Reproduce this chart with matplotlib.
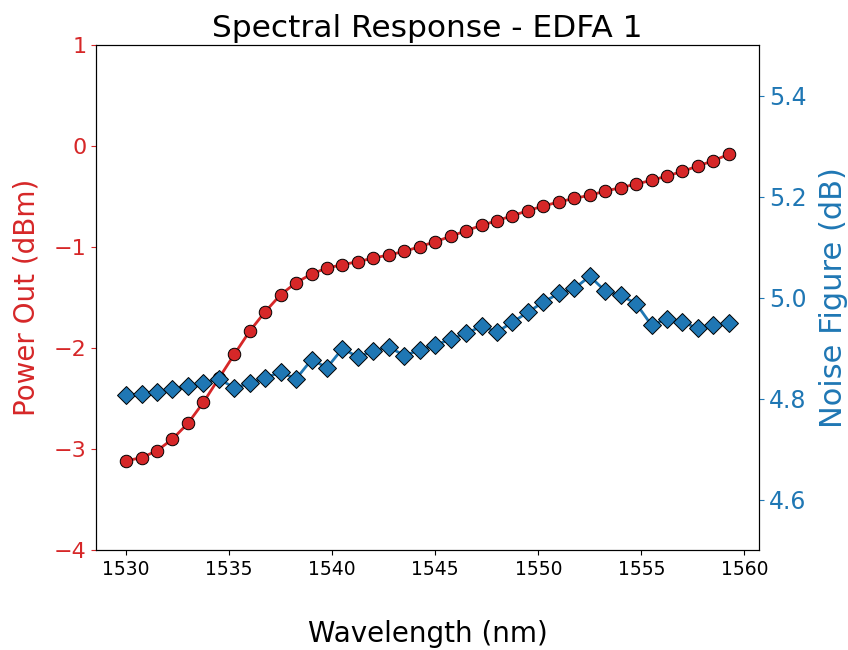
import numpy as np
import matplotlib
matplotlib.use("Agg")
import matplotlib.pyplot as plt

wavelength = [1530 + 0.75 * i for i in range(40)]
power_out = [-3.116, -3.086, -3.017, -2.901, -2.746, -2.538, -2.30, -2.063, -1.832, -1.640,
             -1.472, -1.353, -1.267, -1.208, -1.175, -1.145, -1.109, -1.079, -1.043, -0.997,
             -0.947, -0.895, -0.838, -0.786, -0.739, -0.690, -0.640, -0.594, -0.554, -0.518,
             -0.488, -0.446, -0.413, -0.376, -0.340, -0.297, -0.251, -0.198, -0.145, -0.082]
noise_figure = [4.806, 4.808, 4.812, 4.818, 4.824, 4.831, 4.839, 4.821, 4.830, 4.841,
                4.852, 4.839, 4.877, 4.861, 4.899, 4.882, 4.894, 4.902, 4.885, 4.896,
                4.906, 4.917, 4.929, 4.943, 4.932, 4.951, 4.971, 4.991, 5.008, 5.018,
                5.042, 5.013, 5.004, 4.988, 4.945, 4.958, 4.951, 4.939, 4.945, 4.949]

red = '#d62728'
blue = '#1f77b4'

fig = plt.figure(figsize=(8.48, 6.5), dpi=100)
ax1 = fig.add_axes([96/848, 1 - 550/650, (759 - 96)/848, (550 - 45)/650])
ax1.plot(wavelength, power_out, color=red, marker='o', markersize=9,
         markeredgecolor='black', markeredgewidth=0.7, linewidth=2)
ax1.set_ylim(-4, 1)
ax1.set_yticks([-4, -3, -2, -1, 0, 1])
ax1.set_xticks([1530, 1535, 1540, 1545, 1550, 1555, 1560])
ax1.tick_params(axis='x', labelsize=13.5)
ax1.tick_params(axis='y', labelsize=16, colors=red)
ax1.spines['left'].set_color('black')
ax1.set_ylabel('Power Out (dBm)', color=red, fontsize=20, labelpad=9.5)
ax1.set_xlabel('Wavelength (nm)', fontsize=20, labelpad=30)
ax1.set_title('Spectral Response - EDFA 1', fontsize=22.5)

ax2 = ax1.twinx()
ax2.plot(wavelength, noise_figure, color=blue, marker='D', markersize=9.5,
         markeredgecolor='black', markeredgewidth=0.7, linewidth=2)
ax2.set_ylim(4.5, 5.5)
ax2.set_yticks([4.6, 4.8, 5.0, 5.2, 5.4])
ax2.tick_params(axis='y', labelsize=17, colors=blue)
ax2.set_ylabel('Noise Figure (dB)', color=blue, fontsize=22, labelpad=9)

fig.savefig('out.png', dpi=100)
